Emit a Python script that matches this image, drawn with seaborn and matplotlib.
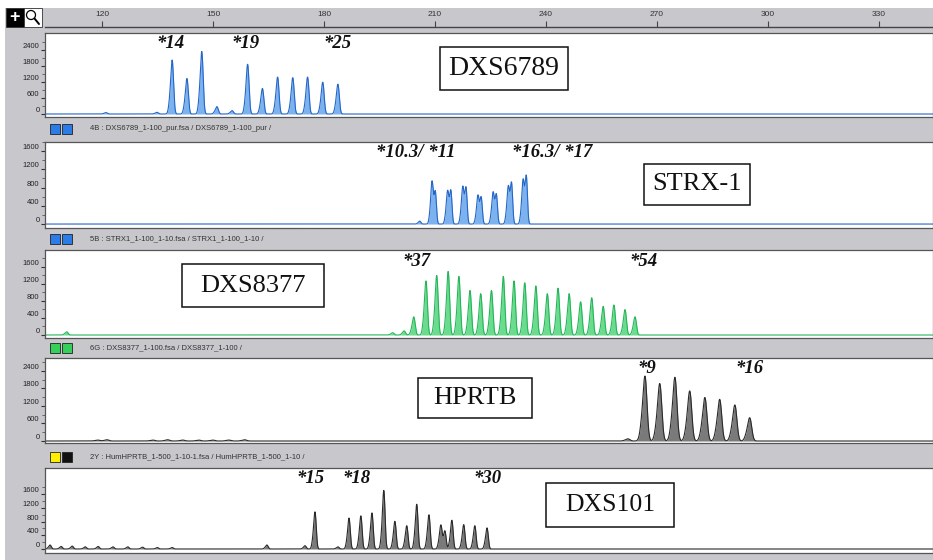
import numpy as np
import matplotlib
matplotlib.use('Agg')
import matplotlib.pyplot as plt
from matplotlib.patches import Rectangle, Ellipse
from matplotlib.lines import Line2D
import seaborn as sns

sns.set_theme(style='white')
plt.rcParams['font.family'] = ['Liberation Sans', 'DejaVu Sans']

W, H = 933, 560
GRAY = '#c8c8cc'
SERIF = ['Liberation Serif', 'DejaVu Serif']

# size axis (bp)
ruler_ticks = [120, 150, 180, 210, 240, 270, 300, 330]
x_range = (104.6, 344.6)

# DXS6789 (blue)
dxs6789_bp = [121.1, 134.9, 139.0, 143.0, 147.0, 151.1, 155.2, 159.4, 163.4, 167.5, 171.6, 175.6, 179.7, 183.8]
dxs6789_rfu = [50, 60, 1900, 1250, 2200, 260, 120, 1750, 900, 1300, 1280, 1300, 1120, 1050]
dxs6789_labels = ['*14', '*19', '*25']
dxs6789_label_bp = [138.6, 158.9, 183.8]

# STRX-1 (blue, doublets)
strx_bp = [205.9, 209.2, 210.1, 213.4, 214.3, 217.5, 218.4, 221.6, 222.5, 225.7, 226.6, 229.8, 230.7, 233.8, 234.7]
strx_rfu = [60, 820, 680, 620, 700, 700, 760, 540, 560, 600, 620, 700, 860, 820, 1000]
strx_labels = ['*10.3/ *11', '*16.3/ *17']
strx_label_bp = [204.9, 241.6]

# DXS8377 (green)
dxs8377_bp = [110.5, 198.6, 201.7, 204.3, 207.6, 210.5, 213.6, 216.5, 219.5, 222.4, 225.3, 228.5, 231.4,
              234.3, 237.3, 240.4, 243.3, 246.3, 249.4, 252.4, 255.5, 258.4, 261.4, 264.1]
dxs8377_rfu = [70, 50, 90, 400, 1190, 1310, 1400, 1290, 980, 910, 980, 1290, 1190,
               1150, 1080, 910, 1030, 910, 730, 820, 630, 660, 560, 400]
dxs8377_labels = ['*37', '*54']
dxs8377_label_bp = [204.9, 266.5]

# HPRTB (black)
hprtb_bp = [118.9, 121.4, 133.8, 137.8, 141.9, 146.2, 150.0, 154.3, 158.6,
            262.2, 266.8, 270.8, 274.9, 278.9, 283.0, 287.0, 291.1, 295.1]
hprtb_rfu = [30, 40, 30, 40, 30, 30, 30, 30, 40,
             70, 2090, 1850, 2050, 1610, 1400, 1340, 1160, 750]
hprtb_labels = ['*9', '*16']
hprtb_label_bp = [267.3, 295.1]

# DXS101 (black)
dxs101_bp = [106.0, 109.0, 112.0, 115.5, 119.0, 123.0, 127.0, 131.0, 135.0, 139.0, 164.6,
             174.9, 177.6, 183.8, 186.8, 190.0, 193.0, 196.2, 199.2, 202.4, 205.1, 208.4,
             211.6, 212.7, 214.6, 217.8, 220.8, 224.1]
dxs101_rfu = [110, 70, 80, 60, 70, 60, 60, 50, 40, 40, 110,
              90, 1020, 60, 850, 910, 990, 1610, 760, 640, 1230, 940,
              640, 500, 790, 670, 640, 580]
dxs101_labels = ['*15', '*18', '*30']
dxs101_label_bp = [176.5, 188.9, 224.3]

strip_texts = ['4B : DXS6789_1-100_pur.fsa / DXS6789_1-100_pur /',
               '5B : STRX1_1-100_1-10.fsa / STRX1_1-100_1-10 /',
               '6G : DXS8377_1-100.fsa / DXS8377_1-100 /',
               '2Y : HumHPRTB_1-500_1-10-1.fsa / HumHPRTB_1-500_1-10 /']
marker_names = ['DXS6789', 'STRX-1', 'DXS8377', 'HPRTB', 'DXS101']

grid = np.linspace(x_range[0], x_range[1], 6000)


def trace(bp, rfu, sigma):
    # peak + small left shoulder, like the raw electropherogram
    y = np.zeros_like(grid)
    for p, h in zip(bp, rfu):
        y += h * np.exp(-0.5 * ((grid - p) / sigma) ** 2)
        y += 0.25 * h * np.exp(-0.5 * ((grid - p + 1.7 * sigma) / sigma) ** 2)
    return y


def px_axes(top, bottom, left=45, right=933):
    return fig.add_axes([left / W, 1 - bottom / H, (right - left) / W, (bottom - top) / H])


def fx(x):
    return x / W


def fy(y):
    return 1 - y / H


fig = plt.figure(figsize=(W / 100, H / 100), dpi=100)
fig.patch.set_facecolor('white')
fig.add_artist(Rectangle((fx(5), 0), 1 - fx(5), fy(8), transform=fig.transFigure,
                         fc=GRAY, ec='none', zorder=-10))

# top ruler
ax_r = px_axes(19, 27)
ax_r.set_facecolor('none')
ax_r.set_xlim(*x_range)
ax_r.set_ylim(0, 1)
ax_r.set_yticks([])
ax_r.set_xticks(ruler_ticks)
for s in ['top', 'left', 'right']:
    ax_r.spines[s].set_visible(False)
ax_r.spines['bottom'].set_color('#444444')
ax_r.spines['bottom'].set_linewidth(1.0)
ax_r.tick_params(axis='x', bottom=True, top=False, direction='in', length=4, width=0.8,
                 color='#444444', labelbottom=False, labeltop=True, pad=0.5,
                 labelsize=6, labelcolor='#333333')

# top-left tool icons
fig.add_artist(Rectangle((fx(6), fy(27)), 18 / W, 19 / H, transform=fig.transFigure,
                         fc='black', ec='#333333', lw=0.6))
fig.text(fx(15), fy(17.5), '+', color='white', fontsize=13, fontweight='bold',
         ha='center', va='center')
fig.add_artist(Rectangle((fx(24), fy(27)), 18 / W, 19 / H, transform=fig.transFigure,
                         fc='white', ec='#333333', lw=0.6))
fig.add_artist(Ellipse((fx(31), fy(15)), 9 / W, 9 / H, transform=fig.transFigure,
                       fc='white', ec='black', lw=0.9))
fig.add_artist(Line2D([fx(34.5), fx(39)], [fy(18.5), fy(24)], transform=fig.transFigure,
                      color='black', lw=1.4))

panels = [
    dict(top=33, bottom=117, bp=dxs6789_bp, rfu=dxs6789_rfu, sigma=0.36, fill='#7cb3ef', line='#2466c8',
         ylim=(-112, 3034), ticks=[0, 600, 1200, 1800, 2400], labels=dxs6789_labels,
         label_bp=dxs6789_label_bp, label_y=2650),
    dict(top=142, bottom=228, bp=strx_bp, rfu=strx_rfu, sigma=0.3, fill='#7cb3ef', line='#2466c8',
         ylim=(-87, 1783), ticks=[0, 400, 800, 1200, 1600], labels=strx_labels,
         label_bp=strx_label_bp, label_y=1565),
    dict(top=250, bottom=338, bp=dxs8377_bp, rfu=dxs8377_rfu, sigma=0.36, fill='#6bdc8e', line='#25b65a',
         ylim=(-70, 1991), ticks=[0, 400, 800, 1200, 1600], labels=dxs8377_labels,
         label_bp=dxs8377_label_bp, label_y=1710),
    dict(top=358, bottom=443, bp=hprtb_bp, rfu=hprtb_rfu, sigma=0.52, fill='#7a7a7a', line='#2a2a2a',
         ylim=(-68, 2842), ticks=[0, 600, 1200, 1800, 2400], labels=hprtb_labels,
         label_bp=hprtb_label_bp, label_y=2480),
    dict(top=468, bottom=553, bp=dxs101_bp, rfu=dxs101_rfu, sigma=0.32, fill='#7a7a7a', line='#2a2a2a',
         ylim=(-117, 2368), ticks=[0, 400, 800, 1200, 1600], labels=dxs101_labels,
         label_bp=dxs101_label_bp, label_y=2050),
]

for p in panels:
    ax = px_axes(p['top'], p['bottom'])
    ax.set_facecolor('white')
    y = trace(p['bp'], p['rfu'], p['sigma'])
    ax.fill_between(grid, 0, y, color=p['fill'], lw=0)
    sns.lineplot(x=grid, y=y, ax=ax, color=p['line'], lw=0.8, estimator=None)
    ax.set_xlim(*x_range)
    ax.set_ylim(*p['ylim'])
    ax.set_xticks([])
    ax.set_yticks(p['ticks'])
    step = p['ticks'][1] - p['ticks'][0]
    ax.set_yticks([t + step / 2 for t in p['ticks']], minor=True)
    ax.tick_params(axis='y', which='major', left=True, direction='out', length=3, width=0.8,
                   color='#333333', labelsize=5.5, labelcolor='#222222', pad=1)
    ax.tick_params(axis='y', which='minor', left=True, direction='out', length=2, width=0.6,
                   color='#555555')
    for lab in ax.get_yticklabels():
        lab.set_va('bottom')
    ax.set_xlabel('')
    ax.set_ylabel('')
    for s in ax.spines.values():
        s.set_color('#555555')
        s.set_linewidth(0.9)
    for txt, bp in zip(p['labels'], p['label_bp']):
        ax.text(bp, p['label_y'], txt, ha='center', va='center', fontsize=13.5,
                fontweight='bold', fontstyle='italic', family=SERIF, color='#111111')

# file strips between panels
strip_y = [129, 239, 348, 457]
square_colors = [('#2a7de8', '#2a7de8'), ('#2a7de8', '#2a7de8'),
                 ('#35d05a', '#35d05a'), ('#ffee00', '#111111')]
for yc, txt, (c1, c2) in zip(strip_y, strip_texts, square_colors):
    fig.add_artist(Rectangle((fx(50), fy(yc + 5)), 10 / W, 10 / H, transform=fig.transFigure,
                             fc=c1, ec='#222222', lw=0.6))
    fig.add_artist(Rectangle((fx(62), fy(yc + 5)), 10 / W, 10 / H, transform=fig.transFigure,
                             fc=c2, ec='#222222', lw=0.6))
    fig.text(fx(90), fy(yc), txt, fontsize=5.5, color='#333333', va='center', ha='left')

# marker name boxes
box_cx = [504, 697, 253, 475, 610]
box_cy = [68.5, 184.5, 285.5, 398, 505]
box_w = [128, 106, 142, 114, 128]
box_h = [43, 41, 43, 40, 44]
box_fs = [20, 19, 19, 19, 18.5]
for name, cx, cy, bw, bh, fs in zip(marker_names, box_cx, box_cy, box_w, box_h, box_fs):
    fig.add_artist(Rectangle((fx(cx - bw / 2), fy(cy + bh / 2)), bw / W, bh / H,
                             transform=fig.transFigure, fc='white', ec='#111111', lw=1.1, zorder=5))
    fig.text(fx(cx), fy(cy), name, family=SERIF, fontsize=fs, ha='center', va='center',
             color='#111111', zorder=6)

fig.savefig('out.png', dpi=100)
